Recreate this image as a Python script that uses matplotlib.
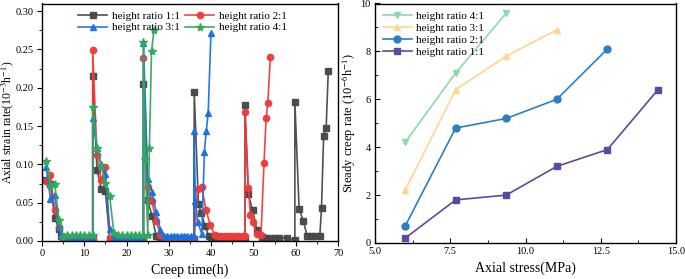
import matplotlib
matplotlib.use("Agg")
import matplotlib.pyplot as plt
from matplotlib.ticker import MultipleLocator

plt.rcParams['font.family'] = ['Liberation Serif', 'DejaVu Serif']
plt.rcParams['mathtext.fontset'] = 'stix'

# ---------------- Left panel data ----------------
t_11 = [1, 2, 3, 4, 4.5, 5, 6, 7, 8, 9, 10, 11, 12, 12, 13, 14, 15, 16, 17, 18, 19, 20, 21, 22, 23, 24,
        24, 25, 26, 27, 28, 29, 30, 31, 32, 33, 34, 35, 36, 36, 37, 37.7, 38.5, 39.5, 40, 41, 42, 43, 44, 45, 46, 47, 48,
        48, 48.8, 49.8, 50.8, 52, 53, 54, 55, 56, 58, 59.8, 59.8, 60.8, 61.8, 62.7, 63.5, 64.5, 65.7, 66.1, 66.6, 67.2, 67.7]
v_11 = [0.079, 0.075, 0.030, 0.016, 0.006, 0.002, 0.002, 0.002, 0.002, 0.002, 0.002, 0.002, 0.002, 0.215, 0.093, 0.068, 0.065, 0.002, 0.002, 0.002, 0.002, 0.002, 0.002, 0.002, 0.002, 0.002,
        0.205, 0.053, 0.033, 0.006, 0.002, 0.002, 0.002, 0.002, 0.002, 0.002, 0.002, 0.002, 0.002, 0.194, 0.048, 0.036, 0.020, 0.006, 0.002, 0.002, 0.002, 0.002, 0.002, 0.002, 0.002, 0.002, 0.002,
        0.177, 0.061, 0.040, 0.015, 0.005, 0.004, 0.004, 0.004, 0.004, 0.004, 0.001, 0.182, 0.042, 0.026, 0.0067, 0.0067, 0.0067, 0.0067, 0.043, 0.137, 0.148, 0.222]

t_21 = [1, 2, 3, 4, 5, 6, 7, 8, 9, 10, 11, 12, 12, 13, 14, 15, 16, 17, 18, 19, 20, 21, 22, 23, 24,
        24, 25, 26, 27, 28, 29, 30, 31, 32, 33, 34, 35, 36, 36.8, 37.8, 38.8, 39.8, 40.8, 41.6, 42.4, 43.2, 44, 44.8, 45.6, 46.4, 47.2, 48,
        48, 48.8, 49.3, 49.8, 50.8, 51.8, 52.5, 53.0, 53.4, 54]
v_21 = [0.078, 0.086, 0.041, 0.018, 0.003, 0.002, 0.002, 0.002, 0.002, 0.002, 0.002, 0.002, 0.249, 0.112, 0.079, 0.096, 0.003, 0.003, 0.003, 0.003, 0.003, 0.003, 0.003, 0.003, 0.003,
        0.239, 0.071, 0.052, 0.026, 0.008, 0.003, 0.003, 0.003, 0.003, 0.003, 0.003, 0.003, 0.003, 0.068, 0.070, 0.040, 0.021, 0.008, 0.006, 0.006, 0.006, 0.006, 0.006, 0.006, 0.006, 0.006, 0.006,
        0.168, 0.069, 0.034, 0.025, 0.009, 0.008, 0.102, 0.160, 0.180, 0.240]

t_31 = [1, 2, 3, 4, 4.6, 5.5, 6.5, 7.5, 8.5, 9.5, 10.5, 11.5, 12, 12, 13, 14, 15, 16, 17, 18, 19, 20, 21, 22, 23, 24,
        24, 25, 26, 27, 28, 28.8, 29.6, 30.4, 31.2, 32, 32.8, 33.6, 34.4, 35.2, 35.9, 35.9, 36.3, 36.8, 37.8, 38.4, 38.85, 39.3, 39.95]
v_31 = [0.097, 0.055, 0.060, 0.020, 0.008, 0.001, 0.001, 0.001, 0.001, 0.001, 0.001, 0.001, 0.001, 0.160, 0.121, 0.100, 0.087, 0.016, 0.002, 0.002, 0.002, 0.002, 0.002, 0.002, 0.002, 0.002,
        0.258, 0.081, 0.064, 0.038, 0.015, 0.007, 0.007, 0.007, 0.007, 0.007, 0.007, 0.007, 0.007, 0.007, 0.007, 0.143, 0.052, 0.025, 0.009, 0.116, 0.144, 0.167, 0.271]

t_41 = [1, 2, 3, 4, 5, 6, 7, 8, 9, 10, 11, 12, 12, 13, 14, 15, 16, 17, 18, 19, 20, 21, 22, 23, 23.9,
        24, 24.4, 25.0, 25.4, 25.9, 26.5]
v_41 = [0.105, 0.072, 0.075, 0.027, 0.005, 0.008, 0.008, 0.008, 0.008, 0.008, 0.008, 0.008, 0.175, 0.122, 0.098, 0.076, 0.059, 0.010, 0.008, 0.008, 0.008, 0.008, 0.008, 0.008, 0.008,
        0.260, 0.107, 0.008, 0.121, 0.248, 0.276]

left_labels = ['height ratio 1:1', 'height ratio 2:1', 'height ratio 3:1', 'height ratio 4:1']
left_colors = ['#474747', '#F03A3A', '#1F6FE0', '#2FAA5C']
left_markers = ['s', 'o', '^', '*']

# ---------------- Right panel data ----------------
stress = [6.0, 7.68, 9.36, 11.04, 12.72, 14.4]
rate_11 = [0.2, 1.8, 2.0, 3.2, 3.9, 6.4]
rate_21 = [0.7, 4.8, 5.2, 6.0, 8.1]
rate_31 = [2.2, 6.4, 7.8, 8.9]
rate_41 = [4.2, 7.1, 9.6]
right_labels = ['height ratio 4:1', 'height ratio 3:1', 'height ratio 2:1', 'height ratio 1:1']
right_colors = ['#8ED8AE', '#FFD58F', '#2D7FC2', '#5A4AA0']
right_markers = ['v', '^', 'o', 's']

fig = plt.figure(figsize=(6.85, 2.79), dpi=100)
W, H = 685, 279
axL = fig.add_axes([42 / W, 1 - 241 / H, (338 - 42) / W, (241 - 3.5) / H])
axR = fig.add_axes([375 / W, 1 - 243 / H, (676 - 375) / W, (243 - 3.5) / H])

handles = []
for t, v, lab, c, m in zip([t_11, t_21, t_31, t_41], [v_11, v_21, v_31, v_41], left_labels, left_colors, left_markers):
    ms = 6 if m == '*' else 4.5
    h, = axL.plot(t, v, color=c, marker=m, markersize=ms, linewidth=1.2, label=lab, alpha=0.95)
    handles.append(h)

axL.set_xlim(0, 70)
axL.set_ylim(0, 0.31)
axL.xaxis.set_major_locator(MultipleLocator(10))
axL.xaxis.set_minor_locator(MultipleLocator(5))
axL.yaxis.set_major_locator(MultipleLocator(0.05))
axL.yaxis.set_minor_locator(MultipleLocator(0.025))
axL.yaxis.set_major_formatter(matplotlib.ticker.FormatStrFormatter('%.2f'))
axL.tick_params(which='both', direction='out', labelsize=7.5, pad=2.5)
axL.tick_params(which='major', length=3.5)
axL.tick_params(which='minor', length=2)
axL.set_xlabel('Creep time(h)', fontsize=10, labelpad=4)
axL.set_ylabel('Axial strain rate(10$^{-3}$h$^{-1}$)', fontsize=8.5)
axL.yaxis.set_label_coords(-0.088, 0.5)
order = [0, 2, 1, 3]
axL.legend([handles[i] for i in order], [left_labels[i] for i in order],
           ncol=2, loc='upper center', bbox_to_anchor=(0.475, 1.0), frameon=False, fontsize=8,
           handlelength=2.6, columnspacing=0.5, labelspacing=0.15, borderaxespad=0.3, handletextpad=0.4)

for x, y, lab, c, m in zip([stress[:3], stress[:4], stress[:5], stress[:6]], [rate_41, rate_31, rate_21, rate_11],
                           right_labels, right_colors, right_markers):
    axR.plot(x, y, color=c, marker=m, markersize=5, linewidth=1.2, label=lab)

axR.set_xlim(5.0, 15.0)
axR.set_ylim(0, 10)
axR.xaxis.set_major_locator(MultipleLocator(2.5))
axR.xaxis.set_minor_locator(MultipleLocator(1.25))
axR.yaxis.set_major_locator(MultipleLocator(2))
axR.yaxis.set_minor_locator(MultipleLocator(1))
axR.xaxis.set_major_formatter(matplotlib.ticker.FormatStrFormatter('%.1f'))
axR.tick_params(which='both', direction='in', labelsize=7.5, pad=3)
axR.tick_params(which='major', length=3.5)
axR.tick_params(which='minor', length=2)
axR.set_xlabel('Axial stress(MPa)', fontsize=10, labelpad=4)
axR.set_ylabel('Steady creep rate (10$^{-6}$h$^{-1}$)', fontsize=9)
axR.yaxis.set_label_coords(-0.055, 0.5)
axR.legend(loc='upper left', frameon=False, fontsize=8, handlelength=2.6, labelspacing=0.2,
           borderaxespad=0.3, handletextpad=0.4)

for ax in (axL, axR):
    for s in ax.spines.values():
        s.set_linewidth(1.0)

fig.savefig('out.png', dpi=100)
